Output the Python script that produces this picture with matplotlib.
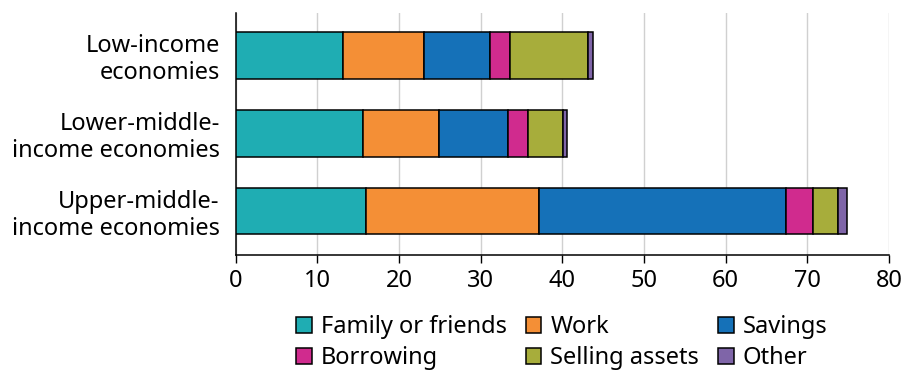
import matplotlib
matplotlib.use("Agg")
import matplotlib.pyplot as plt
import numpy as np

plt.rcParams["font.family"] = ["Noto Sans", "DejaVu Sans"]

categories = ["Low-income\neconomies", "Lower-middle-\nincome economies", "Upper-middle-\nincome economies"]
sources = ["Family or friends", "Work", "Savings", "Borrowing", "Selling assets", "Other"]
family = [13.1, 15.6, 15.9]
work = [10.0, 9.3, 21.3]
savings = [8.0, 8.5, 30.2]
borrowing = [2.5, 2.4, 3.3]
selling = [9.6, 4.3, 3.0]
other = [0.6, 0.5, 1.2]
colors = ["#1fadb3", "#f48f36", "#1571b8", "#d02b8e", "#a7ad3b", "#7f65a8"]

series = [family, work, savings, borrowing, selling, other]
FS = 17

fig = plt.figure(figsize=(9.04, 3.72), dpi=100)
ax = fig.add_axes([0.2607, 0.3137, 0.7227, 0.6523])

y = np.arange(len(categories))
left = np.zeros(len(categories))
handles = []
for name, vals, c in zip(sources, series, colors):
    h = ax.barh(y, vals, left=left, height=0.6, color=c, edgecolor="black", linewidth=1.1, label=name, zorder=3)
    handles.append(h)
    left += np.array(vals)

ax.set_xlim(0, 80)
ax.set_ylim(2.57, -0.55)
ax.set_yticks(y)
ax.set_yticklabels(categories, fontsize=FS, ha="right", multialignment="right", linespacing=1.15)
ax.tick_params(axis="y", length=0, pad=11.5)
ax.set_xticks(range(0, 81, 10))
ax.tick_params(axis="x", labelsize=FS, length=6, width=1, pad=4)
ax.grid(axis="x", color="#d0d0d0", linewidth=1, zorder=0)
for s in ["top", "right"]:
    ax.spines[s].set_visible(False)
ax.spines["left"].set_linewidth(1.1)
ax.spines["bottom"].set_linewidth(1.1)

# legend filled row-wise
order = [0, 3, 1, 4, 2, 5]
fig.legend([handles[i] for i in order], [sources[i] for i in order], ncol=3,
           loc="upper center", bbox_to_anchor=(562 / 904, 0.185), frameon=False,
           fontsize=FS, handlelength=0.66, handleheight=0.66, handletextpad=0.38,
           columnspacing=0.8, labelspacing=0.3, borderpad=0)

fig.savefig("out.png", dpi=100)
